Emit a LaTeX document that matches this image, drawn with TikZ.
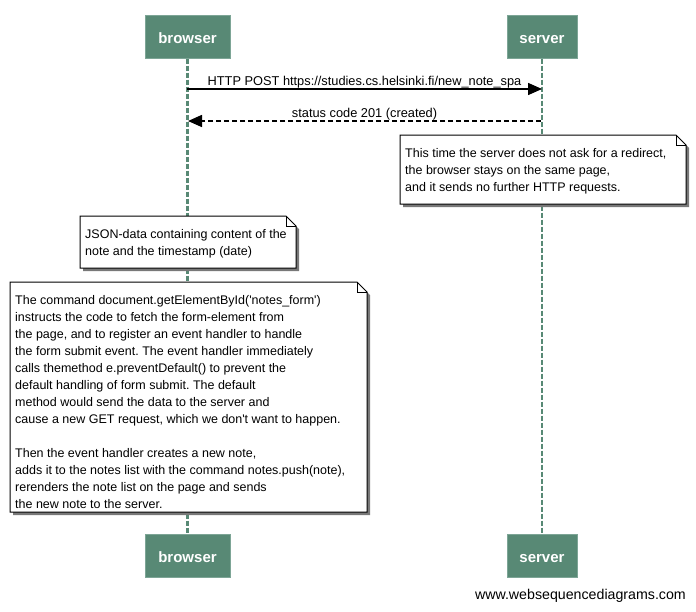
\documentclass[tikz,border=0pt]{standalone}
\usepackage{fontspec}
\setmainfont{Liberation Sans}[Ligatures=TeXOff]
\usetikzlibrary{arrows.meta}
\frenchspacing
\definecolor{actfill}{RGB}{88,137,117}
\definecolor{actline}{RGB}{125,165,150}
\definecolor{lifecol}{RGB}{88,137,117}
\definecolor{shadowcol}{RGB}{120,120,120}
\tikzset{
  actor/.style={draw=actline, fill=actfill, line width=1pt,
    minimum width=#1, minimum height=43pt, inner sep=0pt},
  actorlabel/.style={text=white, font=\bfseries\fontsize{15}{18}\selectfont, anchor=base, inner sep=0pt},
  lifeline/.style={draw=lifecol, line width=2.5pt, dash pattern=on 5pt off 2pt},
  msg/.style={line width=1.5pt, -{Triangle[length=14pt,width=12pt]}},
  reply/.style={msg, dash pattern=on 5pt off 3pt},
  msglabel/.style={font=\fontsize{12.8}{15}\selectfont, inner sep=1pt},
  notetext/.style={font=\fontsize{12.5}{17}\selectfont, align=left, anchor=north west,
    inner xsep=5pt, inner ysep=0pt},
}
\newcommand{\notebox}[4]{% l t r b
  \fill[shadowcol] (#1+3,#2+3) -- (#3-10+3,#2+3) -- (#3+3,#2+10+3) -- (#3+3,#4+3) -- (#1+3,#4+3) -- cycle;
  \draw[fill=white, line width=1pt] (#1,#2) -- (#3-10,#2) -- (#3,#2+10) -- (#3,#4) -- (#1,#4) -- cycle;
  \draw[line width=0.8pt] (#3-10,#2) -- (#3-10,#2+10) -- (#3,#2+10);
}
\begin{document}
\begin{tikzpicture}[x=1pt,y=-1pt]
\useasboundingbox[fill=white] (0,0) rectangle (696,611);
% actors
\node[actor=85pt] (bt) at (187.5,36.5) {};
\node[actor=70pt] (st) at (542,36.5) {};
\node[actor=85pt] (bb) at (187.5,555.5) {};
\node[actor=70pt] (sb) at (542,555.5) {};
\node[actorlabel] (btl) at (187.5,43) {browser};
\node[actorlabel] (stl) at (542,43) {server};
\node[actorlabel] (bbl) at (187.5,562) {browser};
\node[actorlabel] (sbl) at (542,562) {server};
% lifelines
\draw[lifeline] (bt.south) -- (bb.north);
\draw[lifeline] (st.south) -- (sb.north);
% message points
\coordinate (b1) at (187,89);
\coordinate (s1) at (542,89);
\coordinate (b2) at (188,121);
\coordinate (s2) at (541,121);
\draw[msg] (b1) -- node[msglabel, above=-1pt] {HTTP POST https://studies.cs.helsinki.fi/new\_note\_spa} (s1);
\draw[reply] (s2) -- node[msglabel, above=-1pt] {status code 201 (created)} (b2);
% notes
\notebox{400}{135}{686}{204}
\node[notetext] (n1) at (400,148.5) {This time the server does not ask for a redirect,\\the browser stays on the same page,\\and it sends no further HTTP requests.};
\notebox{80}{216}{296}{268}
\node[notetext] (n2) at (80,229.5) {JSON-data containing content of the\\note and the timestamp (date)};
\notebox{10}{282}{367}{512}
\node[notetext] (n3) at (10,295.5) {The command document.getElementById('notes\_form')\\
instructs the code to fetch the form-element from\\
the page, and to register an event handler to handle\\
the form submit event. The event handler immediately\\
calls themethod e.preventDefault() to prevent the\\
default handling of form submit. The default\\
method would send the data to the server and\\
cause a new GET request, which we don't want to happen.\\[17pt]
Then the event handler creates a new note,\\
adds it to the notes list with the command notes.push(note),\\
rerenders the note list on the page and sends\\
the new note to the server.};
% footer
\node[font=\fontsize{14.2}{16}\selectfont, anchor=east, inner sep=0pt] (footer) at (686,596) {www.websequencediagrams.com};
\end{tikzpicture}
\end{document}
